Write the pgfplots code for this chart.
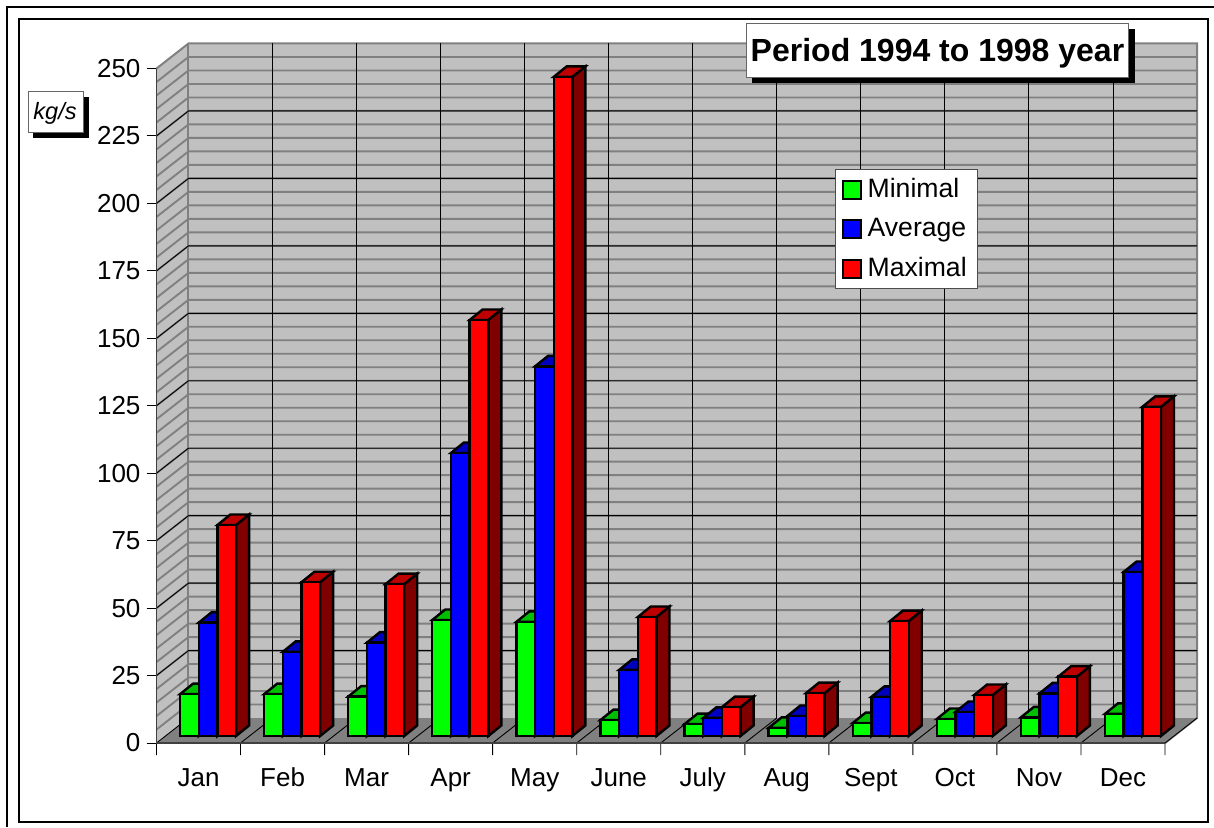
\documentclass[border=0pt]{standalone}
\usepackage{pgfplots}
\usepackage{pgfplotstable}
\usepackage{fontspec}
\setmainfont{Liberation Sans}
\pgfplotsset{compat=1.18}
\definecolor{wall}{HTML}{C0C0C0}
\definecolor{stripe}{HTML}{808080}
\pgfplotstableread{
x    min   avg   max
0.5  15.5  42.0  78.2
1.5  15.5  31.2  57.0
2.5  14.6  34.6  56.3
3.5  43.0  104.9 154.2
4.5  42.3  137.0 244.3
5.5  5.9   24.5  44.1
6.5  4.4   6.7   10.7
7.5  3.0   7.4   15.9
8.5  4.8   14.5  42.6
9.5  6.3   8.9   15.2
10.5 6.9   15.8  22.0
11.5 8.2   60.8  122.0
}\chartdata
% #1 column, #2 series number, #3 top colour, #4 side colour
\newcommand\depthfaces[4]{%
  \pgfplotsinvokeforeach{0,...,11}{%
    \pgfplotstablegetelem{##1}{#1}\of\chartdata
    \pgfmathsetmacro\vv{\pgfplotsretval}%
    \pgfmathsetmacro\xl{##1+0.5-1.5*0.2221+#2*0.2221}%
    \pgfmathsetmacro\xr{\xl+0.2221}%
    \pgfmathsetmacro\xla{\xl+0.1546}%
    \pgfmathsetmacro\xra{\xr+0.1546}%
    \pgfmathsetmacro\vb{\vv+3.89}%
    \addplot[forget plot,fill=#4,draw=black,line width=1.2pt,line join=miter]
      coordinates {(\xr,0) (\xra,3.89) (\xra,\vb) (\xr,\vv)} -- cycle;
    \addplot[forget plot,fill=#3,draw=black,line width=1.2pt,line join=miter]
      coordinates {(\xl,\vv) (\xla,\vb) (\xra,\vb) (\xr,\vv)} -- cycle;
  }%
}
\pgfplotsset{swatch/.style={legend image code/.code={%
  \draw[##1,line width=1pt] (0pt,-4.5pt) rectangle (9pt,4.5pt);
  \path (9.5pt,0pt);}}}
\begin{document}
\begin{tikzpicture}
\useasboundingbox (0,0) rectangle (607pt,413.5pt);
\begin{scope}[x=0.5pt,y=-0.5pt,yshift=413.5pt]
  \draw[line width=1pt] (7,827) -- (7,7) -- (1214,7);
  \draw[line width=0.6pt] (19,19) rectangle (1208,822);
\end{scope}
% ---- frame axis: walls, floor, scale (front plane at px 156.5..1165.5 / 743..68.5)
\begin{axis}[
  at={(78.25pt,42pt)},anchor=south west,scale only axis,
  width=520.25pt,height=349.75pt,
  xmin=0,xmax=12.3806,ymin=0,ymax=259.27,
  clip=false,
  axis x line*=bottom,axis y line*=left,
  axis line style={draw=none},
  tick align=outside,
  ytick={0,25,...,250},
  xtick={0.5,1.5,...,11.5},
  xticklabels={Jan,Feb,Mar,Apr,May,June,July,Aug,Sept,Oct,Nov,Dec},
  xtick style={draw=none},
  ytick style={draw=black,line width=0.5pt},
  major tick length=5pt,
  /pgf/number format/assume math mode=true,
  tick label style={font=\fontsize{13}{13}\selectfont},
  x tick label style={yshift=-3pt,text height=10pt,text depth=3pt},
  y tick label style={xshift=0.5pt},
]
  % floor
  \addplot[forget plot,fill=stripe,draw=none] coordinates {(0,0) (12,0) (12.3806,9.27) (0.3806,9.27)} -- cycle;
  % side wall
  \addplot[forget plot,fill=wall,draw=none] coordinates {(0,0) (0.3806,9.27) (0.3806,259.27) (0,250)} -- cycle;
  % back wall
  \addplot[forget plot,fill=wall,draw=none] coordinates {(0.3806,9.27) (12.3806,9.27) (12.3806,259.27) (0.3806,259.27)} -- cycle;
  % minor stripes
  \pgfplotsinvokeforeach{5,10,...,245}{%
    \draw[stripe,line width=0.95pt] (axis cs:0,#1) -- (axis cs:0.3806,#1+9.27) -- (axis cs:12.3806,#1+9.27);
  }
  % frame edges of the walls
  \draw[stripe,line width=1pt] (axis cs:0,250) -- (axis cs:0.3806,259.27) -- (axis cs:12.3806,259.27) -- (axis cs:12.3806,9.27) -- (axis cs:12,0);
  \draw[stripe,line width=1pt] (axis cs:0.3806,259.27) -- (axis cs:0.3806,9.27);
  % category lines
  \pgfplotsinvokeforeach{1,...,11}{%
    \draw[black,line width=0.45pt] (axis cs:#1+0.3806,259.27) -- (axis cs:#1+0.3806,9.27);
  }
  \pgfplotsinvokeforeach{0,...,12}{%
    \draw[black,line width=0.45pt] (axis cs:#1+0.3806,9.27) -- (axis cs:#1,0) -- ++(0,-6pt);
  }
  % major lines
  \pgfplotsinvokeforeach{25,50,...,225}{%
    \draw[black,line width=0.45pt] (axis cs:0,#1) -- (axis cs:0.3806,#1+9.27) -- (axis cs:12.3806,#1+9.27);
  }
  % front axis lines
  \draw[black!75,line width=0.9pt] (axis cs:0,250) -- (axis cs:0,0) -- (axis cs:12,0);
\end{axis}
% ---- bars: same scale, shifted onto the floor (baseline px 736, left px 166)
\begin{axis}[
  at={(83pt,45.5pt)},anchor=south west,scale only axis,
  width=504.5pt,height=337.25pt,
  xmin=0,xmax=12,ymin=0,ymax=250,
  clip=false,hide axis,
  legend cell align=left,
  legend style={at={(0.663,0.8399)},anchor=north west,draw=black!70,line width=0.5pt,fill=white,
    font=\fontsize{13.3}{13.3}\selectfont,inner xsep=3.5pt,inner ysep=2.25pt,
    row sep=4.9pt,
    /tikz/every even column/.append style={column sep=0pt}},
]
  \depthfaces{min}{0}{green!75!black}{green!50!black}
  \addplot[ybar,bar width=9.335pt,bar shift=-9.335pt,fill=green,draw=black,line width=1.2pt,swatch] table[x=x,y=min] {\chartdata};
  \addlegendentry{Minimal}
  \depthfaces{avg}{1}{blue!75!black}{blue!50!black}
  \addplot[ybar,bar width=9.335pt,bar shift=0pt,fill=blue,draw=black,line width=1.2pt,swatch] table[x=x,y=avg] {\chartdata};
  \addlegendentry{Average}
  \depthfaces{max}{2}{red!75!black}{red!50!black}
  \addplot[ybar,bar width=9.335pt,bar shift=9.335pt,fill=red,draw=black,line width=1.2pt,swatch] table[x=x,y=max] {\chartdata};
  \addlegendentry{Maximal}
\end{axis}
\begin{scope}[x=0.5pt,y=-0.5pt,yshift=413.5pt]
  % title box
  \fill[black] (752,29) rectangle (1135,83);
  \draw[fill=white,draw=black!60,line width=0.5pt] (746,23.5) rectangle (1128.5,77.5);
  \node[anchor=base,font=\fontsize{16}{16}\selectfont\bfseries] at (937.5,61) {Period 1994 to 1998 year};
  % unit box
  \fill[black] (33,97) rectangle (89,138);
  \draw[fill=white,draw=black!60,line width=0.5pt] (28,91.5) rectangle (83,132.5);
  \node[anchor=base,font=\fontsize{11.8}{11.8}\selectfont\itshape] at (55,119.5) {kg/s};
\end{scope}
\end{tikzpicture}
\end{document}
